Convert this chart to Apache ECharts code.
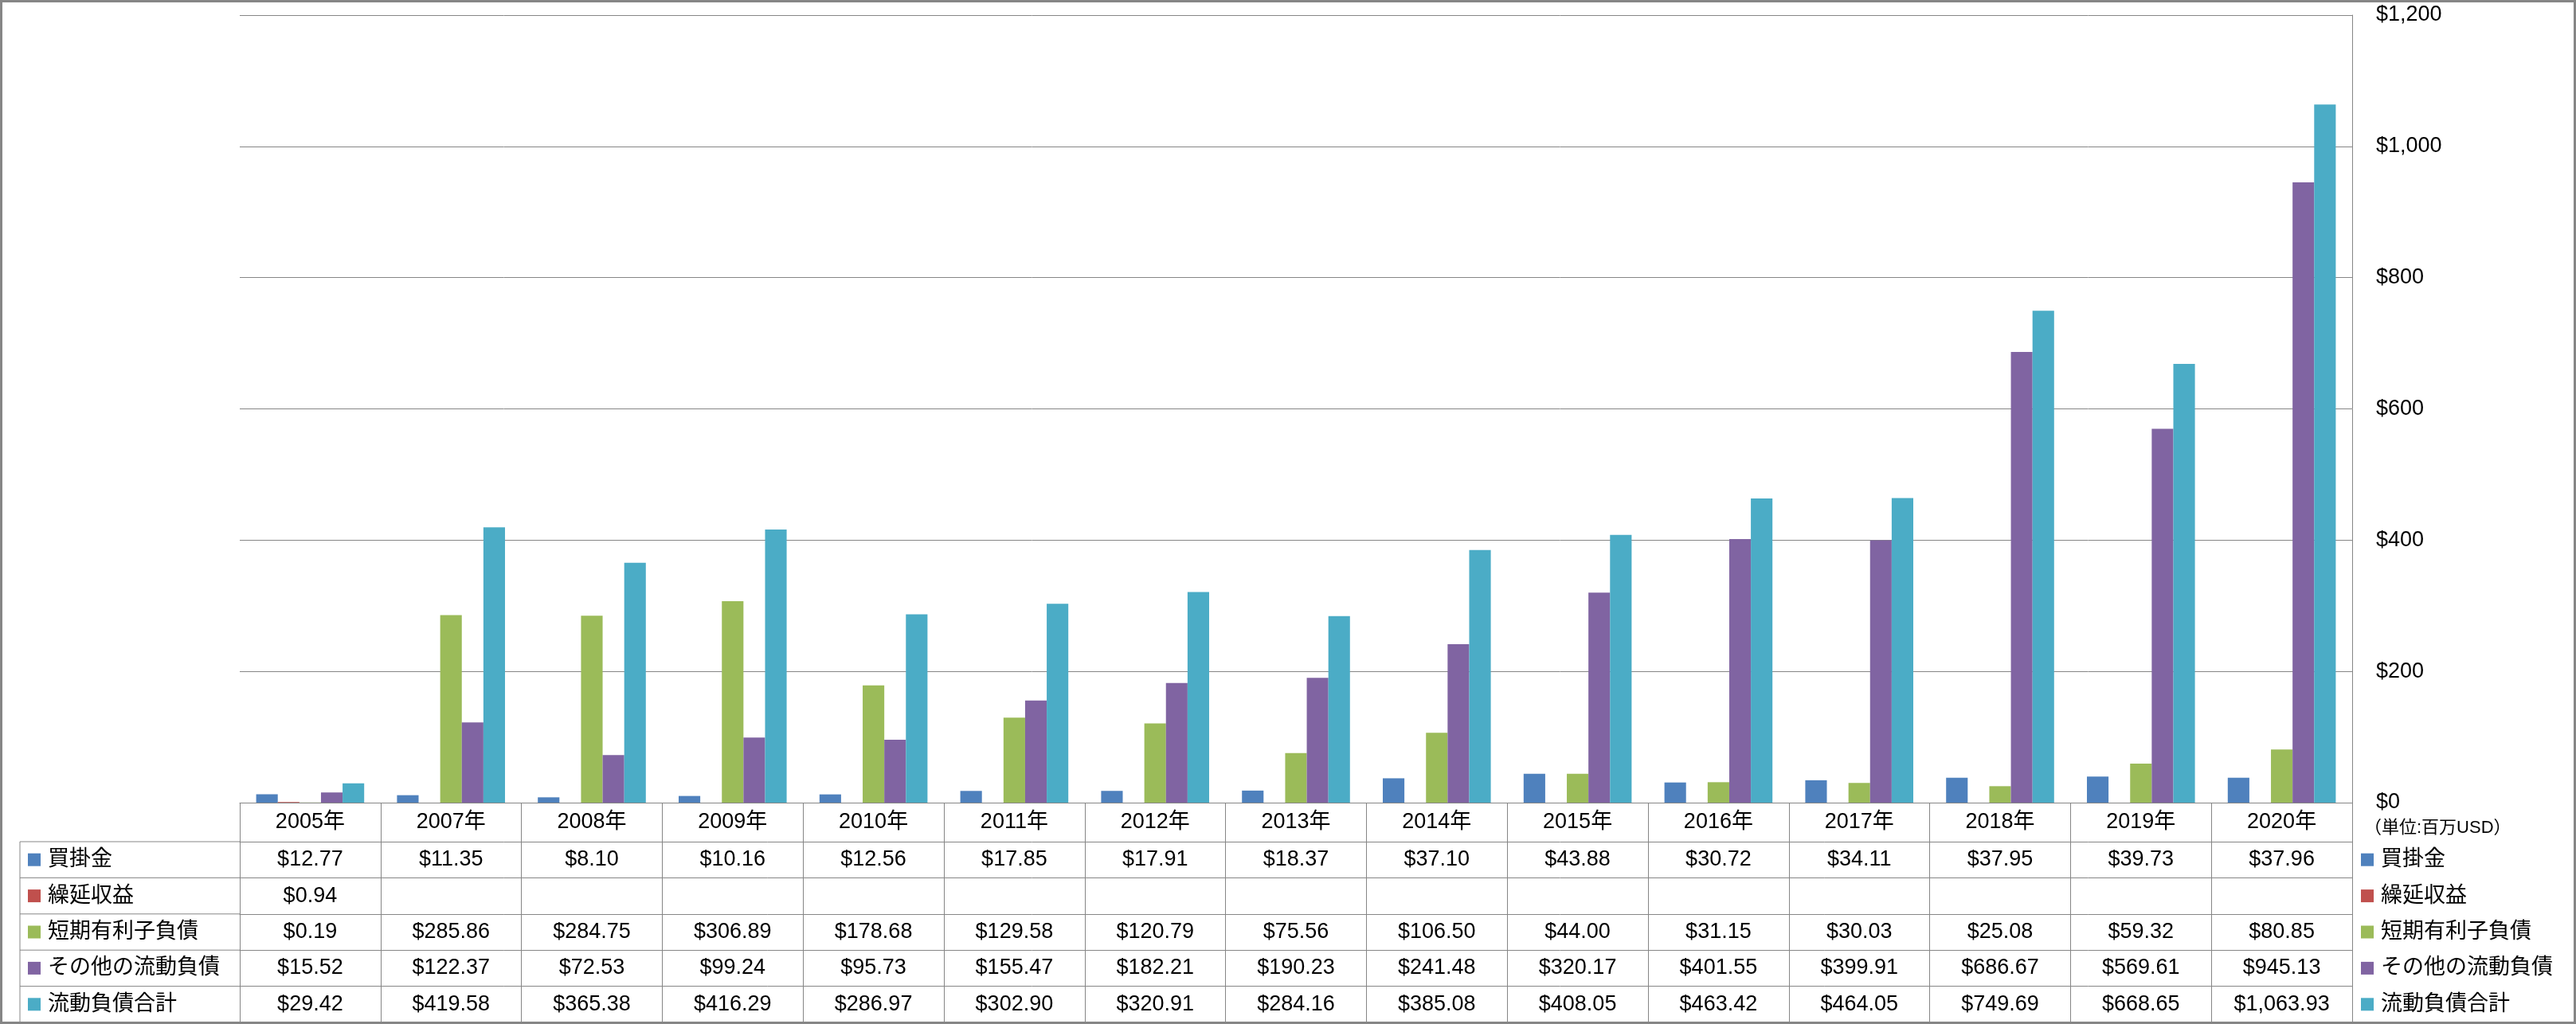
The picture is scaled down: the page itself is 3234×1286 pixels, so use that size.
<!DOCTYPE html>
<html>
<head>
<meta charset="utf-8">
<script src="https://cdn.jsdelivr.net/npm/echarts@6/dist/echarts.min.js"></script>
<style>
html,body{margin:0;padding:0;background:#fff;}
#chart{width:3234px;height:1286px;}
</style>
</head>
<body>
<div id="chart"></div>
<script>
const categories = ['2005年','2007年','2008年','2009年','2010年','2011年','2012年','2013年','2014年','2015年','2016年','2017年','2018年','2019年','2020年'];
const seriesNames = ['買掛金','繰延収益','短期有利子負債','その他の流動負債','流動負債合計'];
const accountsPayable = [12.77, 11.35, 8.10, 10.16, 12.56, 17.85, 17.91, 18.37, 37.10, 43.88, 30.72, 34.11, 37.95, 39.73, 37.96];
const deferredRevenue = [0.94, null, null, null, null, null, null, null, null, null, null, null, null, null, null];
const shortTermDebt = [0.19, 285.86, 284.75, 306.89, 178.68, 129.58, 120.79, 75.56, 106.50, 44.00, 31.15, 30.03, 25.08, 59.32, 80.85];
const otherCurrent = [15.52, 122.37, 72.53, 99.24, 95.73, 155.47, 182.21, 190.23, 241.48, 320.17, 401.55, 399.91, 686.67, 569.61, 945.13];
const totalCurrent = [29.42, 419.58, 365.38, 416.29, 286.97, 302.90, 320.91, 284.16, 385.08, 408.05, 463.42, 464.05, 749.69, 668.65, 1063.93];
const yTicks = {min: 0, max: 1200, interval: 200};
const unitLabel = '（単位:百万USD）';

const seriesData = [accountsPayable, deferredRevenue, shortTermDebt, otherCurrent, totalCurrent];
const colors = ['#4F81BD', '#C0504D', '#9BBB59', '#8064A2', '#4BACC6'];

const FONT = "'Liberation Sans', 'Noto Sans CJK JP', sans-serif";
const GRAY = '#868686';
const FS = 27;

// layout
const gridLeft = 301, gridRight = 2953, gridTop = 19, gridBottom = 1008, chartBottom = 1284;
const headerH = 49;
const rowH = (chartBottom - gridBottom - headerH) / 5;

function money(v) {
  if (v === null || v === undefined) return '';
  return '$' + v.toLocaleString('en-US', {minimumFractionDigits: 2, maximumFractionDigits: 2});
}

const xAxes = [{
  type: 'category',
  data: categories,
  gridIndex: 0,
  position: 'bottom',
  boundaryGap: true,
  axisLine: {show: true, lineStyle: {color: GRAY, width: 1}},
  axisTick: {show: true, alignWithLabel: false, interval: 0, length: chartBottom - gridBottom, lineStyle: {color: GRAY, width: 1}},
  axisLabel: {interval: 0, fontSize: FS, fontFamily: FONT, color: '#000', verticalAlign: 'middle', margin: headerH / 2}
}];
seriesData.forEach((arr, k) => {
  xAxes.push({
    type: 'category',
    data: categories,
    gridIndex: 0,
    position: 'bottom',
    offset: headerH + rowH * k,
    axisLine: {show: true, lineStyle: {color: GRAY, width: 1}},
    axisTick: {show: false},
    splitLine: {show: false},
    axisLabel: {
      interval: 0, fontSize: FS, fontFamily: FONT, color: '#000',
      verticalAlign: 'middle', margin: rowH / 2,
      formatter: (value, idx) => money(arr[idx])
    }
  });
});

const graphics = [];
// left legend column lines
for (let k = 0; k < 5; k++) {
  const y = gridBottom + headerH + rowH * k;
  graphics.push({type: 'line', shape: {x1: 25, y1: y, x2: gridLeft, y2: y}, style: {stroke: GRAY, lineWidth: 1}, silent: true});
}
graphics.push({type: 'line', shape: {x1: 25, y1: gridBottom + headerH, x2: 25, y2: chartBottom}, style: {stroke: GRAY, lineWidth: 1}, silent: true});
// unit label
graphics.push({type: 'text', left: 2968, top: 1029, style: {text: unitLabel, fontSize: 22, fontFamily: FONT, fill: '#000'}, silent: true});
// outer border
graphics.push({type: 'rect', shape: {x: 1.5, y: 1.5, width: 3231, height: 1283}, style: {fill: 'none', stroke: GRAY, lineWidth: 3}, silent: true, z: 100});

const legendBase = {
  orient: 'vertical',
  data: seriesNames,
  icon: 'rect',
  itemWidth: 16,
  itemHeight: 16,
  itemGap: rowH - 30,
  padding: 0,
  top: gridBottom + headerH + rowH / 2 - 15,
  selectedMode: false,
  textStyle: {fontSize: FS, fontFamily: FONT, color: '#000', lineHeight: 30, padding: [0, 0, 0, 4]}
};

const option = {
  animation: false,
  backgroundColor: '#fff',
  color: colors,
  textStyle: {fontFamily: FONT},
  grid: {left: gridLeft, right: 3234 - gridRight, top: gridTop, bottom: 1286 - gridBottom, containLabel: false},
  legend: [
    Object.assign({}, legendBase, {left: 35}),
    Object.assign({}, legendBase, {left: 2964})
  ],
  xAxis: xAxes,
  yAxis: {
    type: 'value',
    position: 'right',
    min: yTicks.min, max: yTicks.max, interval: yTicks.interval,
    axisLine: {show: true, lineStyle: {color: GRAY, width: 1}},
    axisTick: {show: false},
    splitLine: {show: true, lineStyle: {color: GRAY, width: 1}},
    axisLabel: {fontSize: FS, fontFamily: FONT, color: '#000', margin: 30, formatter: v => '$' + v.toLocaleString('en-US')}
  },
  graphic: graphics,
  series: seriesNames.map((name, i) => ({
    name: name,
    type: 'bar',
    xAxisIndex: 0,
    data: seriesData[i],
    barGap: '0%',
    barCategoryGap: '23.3%',
    itemStyle: {color: colors[i]}
  }))
};

const chart = echarts.init(document.getElementById('chart'), null, {renderer: 'canvas'});
chart.setOption(option);
</script>
</body>
</html>
